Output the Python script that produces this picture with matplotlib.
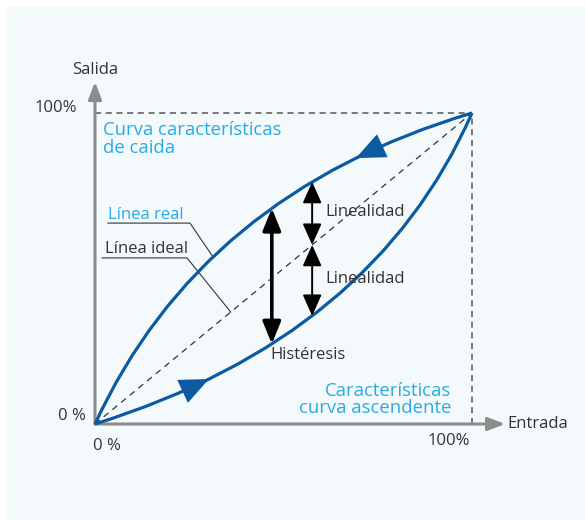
import numpy as np
import matplotlib.pyplot as plt
from matplotlib.path import Path
from matplotlib.patches import PathPatch, Rectangle

plt.rcParams['font.family'] = ['Open Sans', 'DejaVu Sans']

# curves as quadratic Bezier: start, control, end (fraction of full scale)
upper_ctrl = [(0.0, 0.0), (0.28, 0.74), (1.0, 1.0)]   # curva de caida
lower_ctrl = [(0.0, 0.0), (0.74, 0.28), (1.0, 1.0)]   # curva ascendente
ideal_line = [(0.0, 0.0), (1.0, 1.0)]

hyst_x = 0.469       # where the histeresis arrow sits
lin_x = 0.576        # where the linealidad arrows sit
upper_arrow_t = 0.77
lower_arrow_t = 0.22
arrow_dt = 0.055

blue = '#0b5aa2'
light_blue = '#29abe2'
gray = '#8c8c8c'
dark = '#333333'


def bez(ctrl, t):
    p0, p1, p2 = [np.array(p) for p in ctrl]
    return (1 - t) ** 2 * p0 + 2 * (1 - t) * t * p1 + t ** 2 * p2


def bez_y_at(ctrl, x):
    cx = ctrl[1][0]
    a, b = 1 - 2 * cx, 2 * cx
    t = (-b + np.sqrt(b * b + 4 * a * x)) / (2 * a) if abs(a) > 1e-9 else x / b
    return bez(ctrl, t)[1]


fig = plt.figure(figsize=(5.85, 5.2), dpi=100)
fig.patch.set_facecolor('white')
fig.add_artist(Rectangle((7 / 585, 0), 1, 1 - 7 / 520, transform=fig.transFigure,
                         color='#f4fafc', zorder=-10))

ax = fig.add_axes([95 / 585, (520 - 424) / 520, 377 / 585, 311 / 520])
ax.set_xlim(0, 1)
ax.set_ylim(0, 1)
ax.axis('off')

# axes with arrows
axis_head = dict(arrowstyle='-|>,head_length=1.3,head_width=0.5', color=gray,
                 lw=2.2, mutation_scale=8, shrinkA=0, shrinkB=0)
ax.annotate('', xy=(1.088, 0), xytext=(0, 0), annotation_clip=False, arrowprops=axis_head)
ax.annotate('', xy=(0, 1.10), xytext=(0, 0), annotation_clip=False, arrowprops=axis_head)

# 100% guide lines
ax.plot([0, 1], [1, 1], color='#555555', lw=1.1, ls=(0, (4, 3)), clip_on=False)
ax.plot([1, 1], [0, 1], color='#555555', lw=1.1, ls=(0, (4, 3)), clip_on=False)

# ideal line
ax.plot([p[0] for p in ideal_line], [p[1] for p in ideal_line], color=dark, lw=0.9,
        ls=(0, (5, 4)))

# real curves
for ctrl in (upper_ctrl, lower_ctrl):
    path = Path(ctrl, [Path.MOVETO, Path.CURVE3, Path.CURVE3])
    ax.add_patch(PathPatch(path, fill=False, edgecolor=blue, lw=2.3, zorder=3,
                           clip_on=False))

# direction arrowheads on the curves
head = dict(arrowstyle='-|>,head_length=3.0,head_width=1.3', color=blue, lw=0,
            mutation_scale=7, shrinkA=0, shrinkB=0)
ax.annotate('', xy=bez(upper_ctrl, upper_arrow_t), xytext=bez(upper_ctrl, upper_arrow_t + arrow_dt),
            arrowprops=head, zorder=4)
ax.annotate('', xy=bez(lower_ctrl, lower_arrow_t), xytext=bez(lower_ctrl, lower_arrow_t - arrow_dt),
            arrowprops=head, zorder=4)

# histeresis arrow
ax.annotate('', xy=(hyst_x, bez_y_at(lower_ctrl, hyst_x)), xytext=(hyst_x, bez_y_at(upper_ctrl, hyst_x)),
            arrowprops=dict(arrowstyle='<|-|>,head_length=1.35,head_width=0.55', color='black',
                            lw=2.6, mutation_scale=10, shrinkA=0, shrinkB=0), zorder=5)
# linealidad arrows
lin_head = dict(arrowstyle='<|-|>,head_length=1.3,head_width=0.58', color='black',
                lw=1.4, mutation_scale=10, shrinkA=0, shrinkB=0)
ax.annotate('', xy=(lin_x, lin_x), xytext=(lin_x, bez_y_at(upper_ctrl, lin_x)),
            arrowprops=lin_head, zorder=5)
ax.annotate('', xy=(lin_x, bez_y_at(lower_ctrl, lin_x)), xytext=(lin_x, lin_x),
            arrowprops=lin_head, zorder=5)

# leader lines
real_x = 0.313
ax.plot([0.034, 0.252, real_x], [0.646, 0.646, bez_y_at(upper_ctrl, real_x)],
        color=dark, lw=0.8, zorder=2)
ideal_x = 0.36
ax.plot([0.019, 0.244, ideal_x], [0.534, 0.534, ideal_x], color=dark, lw=0.8, zorder=2)

# texts
fs = 12
bfs = 13.3
ax.text(0, 1.138, 'Salida', ha='center', va='center', fontsize=fs, color=dark)
ax.text(-0.048, 1.016, '100%', ha='right', va='center', fontsize=fs, color=dark)
ax.text(-0.024, 0.026, '0 %', ha='right', va='center', fontsize=fs, color=dark)
ax.text(-0.005, -0.071, '0 %', ha='left', va='center', fontsize=fs, color=dark)
ax.text(0.995, -0.055, '100%', ha='right', va='center', fontsize=fs, color=dark)
ax.text(1.095, 0.0, 'Entrada', ha='left', va='center', fontsize=fs, color=dark)

ax.text(0.021, 0.945, 'Curva características', ha='left', va='center', fontsize=bfs, color=light_blue)
ax.text(0.021, 0.887, 'de caida', ha='left', va='center', fontsize=bfs, color=light_blue)
ax.text(0.944, 0.106, 'Características', ha='right', va='center', fontsize=bfs, color=light_blue)
ax.text(0.944, 0.051, 'curva ascendente', ha='right', va='center', fontsize=bfs, color=light_blue)

ax.text(0.034, 0.672, 'Línea real', ha='left', va='center', fontsize=fs, color=light_blue)
ax.text(0.027, 0.563, 'Línea ideal', ha='left', va='center', fontsize=fs, color=dark)
ax.text(0.61, 0.682, 'Linealidad', ha='left', va='center', fontsize=fs, color=dark)
ax.text(0.61, 0.466, 'Linealidad', ha='left', va='center', fontsize=fs, color=dark)
ax.text(0.464, 0.222, 'Histéresis', ha='left', va='center', fontsize=fs, color=dark)

fig.savefig('out.png', dpi=100)
